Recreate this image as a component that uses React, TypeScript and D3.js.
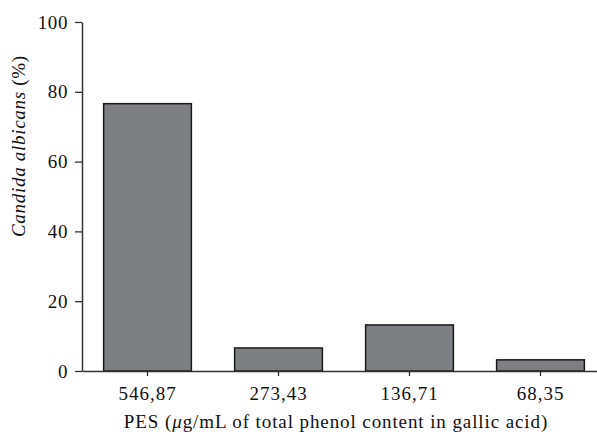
import React, { useEffect, useRef } from "react";
import * as d3 from "d3";

const categories = ["546,87", "273,43", "136,71", "68,35"];
const values = [76.6, 6.6, 13.2, 3.2];
const yTicks = [0, 20, 40, 60, 80, 100];

const App = () => {
  const svgRef = useRef<SVGSVGElement>(null);

  useEffect(() => {
    const svg = d3.select(svgRef.current);
    svg.selectAll("*").remove();

    const left = 82,
      top = 22,
      bottom = 371;
    const font = "'Liberation Serif', 'DejaVu Serif', serif";

    const x = d3
      .scaleBand()
      .domain(categories)
      .range([left, 606])
      .paddingInner(0.33)
      .paddingOuter(0.165);
    const y = d3.scaleLinear().domain([0, 100]).range([bottom, top]);

    // bars
    svg
      .append("g")
      .selectAll("rect")
      .data(values)
      .join("rect")
      .attr("x", (d, i) => x(categories[i]))
      .attr("y", (d) => y(d))
      .attr("width", x.bandwidth())
      .attr("height", (d) => y(0) - y(d))
      .attr("fill", "#7e7f83")
      .attr("stroke", "#1a1a1a")
      .attr("stroke-width", 1.5);

    // y axis
    const yAxis = svg
      .append("g")
      .attr("transform", `translate(${left},0)`)
      .call(d3.axisLeft(y).tickValues(yTicks).tickSize(7).tickSizeOuter(0).tickPadding(7));
    yAxis.select(".domain").attr("stroke", "#333").attr("stroke-width", 1.5);
    yAxis.selectAll(".tick line").attr("stroke", "#333").attr("stroke-width", 1.3);
    yAxis
      .selectAll(".tick text")
      .attr("font-family", font)
      .attr("font-size", 19)
      .attr("letter-spacing", 0.6)
      .attr("fill", "#111");

    // x axis
    const xAxis = svg
      .append("g")
      .attr("transform", `translate(0,${bottom})`)
      .call(d3.axisBottom(x).tickSize(5).tickSizeOuter(0).tickPadding(11));
    xAxis.select(".domain").attr("stroke", "#333").attr("stroke-width", 1.5);
    xAxis.selectAll(".tick line").attr("stroke", "#333").attr("stroke-width", 1.3);
    xAxis
      .selectAll(".tick text")
      .attr("font-family", font)
      .attr("font-size", 19)
      .attr("letter-spacing", 1)
      .attr("fill", "#111");

    // x title
    const xt = svg
      .append("text")
      .attr("x", 336)
      .attr("y", 428)
      .attr("text-anchor", "middle")
      .attr("font-family", font)
      .attr("font-size", 19)
      .attr("letter-spacing", 0.9)
      .attr("fill", "#111");
    xt.append("tspan").text("PES (");
    xt.append("tspan").attr("font-style", "italic").text("\u03bc");
    xt.append("tspan").text("g/mL of total phenol content in gallic acid)");

    // y title
    const yt = svg
      .append("text")
      .attr("transform", "translate(25,237) rotate(-90)")
      .attr("text-anchor", "start")
      .attr("font-family", font)
      .attr("font-size", 19)
      .attr("letter-spacing", 0.7)
      .attr("fill", "#111");
    yt.append("tspan").attr("font-style", "italic").text("Candida albicans");
    yt.append("tspan").text(" (%)");
  }, []);

  return (
    <div style={{ position: "absolute", left: 0, top: 0 }}>
      <svg ref={svgRef} width={597} height={436} style={{ display: "block", background: "#fff" }}></svg>
    </div>
  );
};

export default App;
